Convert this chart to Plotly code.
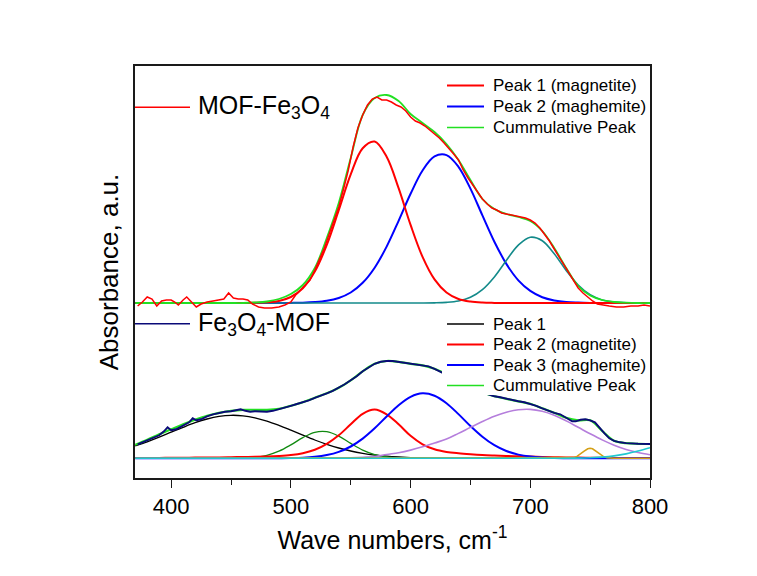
import plotly.graph_objects as go

# ---------------- data ----------------
# common wavenumber grid for the fitted components
wn = [370, 380, 390, 400, 410, 420, 430, 440, 450, 460,
      470, 480, 490, 500, 510, 520, 530, 540, 550, 560,
      570, 580, 590, 600, 610, 620, 630, 640, 650, 660,
      670, 680, 690, 700, 710, 720, 730, 740, 750, 760,
      770, 780, 790, 800]

# ---- upper spectrum: MOF-Fe3O4 (heights above its own baseline) ----
up_peak1 = [0, 0, 0, 0, 0, 0, 0, 0, 0, 0.1,
            0.2, 0.7, 2.1, 6.0, 14.8, 31.4, 58.0, 92.7, 128.6, 154.8,
            161.5, 146.2, 114.8, 78.1, 46.1, 23.6, 10.5, 4.0, 1.4, 0.4,
            0.1, 0, 0, 0, 0, 0, 0, 0, 0, 0,
            0, 0, 0, 0]
up_peak2 = [0, 0, 0, 0, 0, 0, 0, 0, 0, 0,
            0, 0, 0.03, 0.1, 0.3, 0.9, 2.2, 5.0, 10.5, 20.2,
            35.3, 56.4, 82.2, 109.2, 132.5, 146.6, 147.9, 136.2, 114.4, 87.6,
            61.3, 39.1, 22.7, 12.1, 5.8, 2.6, 1.0, 0.4, 0.1, 0,
            0, 0, 0, 0]
up_peak3 = [0, 0, 0, 0, 0, 0, 0, 0, 0, 0,
            0, 0, 0, 0, 0, 0, 0, 0, 0, 0,
            0, 0, 0, 0, 0.03, 0.15, 0.6, 2.0, 5.7, 13.4,
            26.1, 42.6, 57.9, 65.8, 62.3, 49.2, 32.5, 17.9, 8.2, 3.1,
            1.0, 0.3, 0.06, 0]
up_cumul = [0, 0, 0, 0, 0, 0, 0, 0, 0, 0,
            0.5, 1.5, 4, 9, 18, 35, 65, 100, 145, 188,
            205, 208, 202, 189, 180, 171, 159, 143, 123, 104,
            94, 89, 86, 82, 72, 55, 35, 17, 7.5, 3,
            1, 0.3, 0, 0]

up_data_wn = [372, 376, 380, 384, 388, 392, 396, 400, 403, 406, 410, 413, 417, 421, 425, 430,
              435, 440, 444, 448, 452, 456, 460, 464, 468, 473, 478, 484, 490, 495, 500, 504,
              508, 512, 516, 520, 524, 528, 532, 536, 540, 544, 548, 552, 556, 560, 564, 568,
              572, 576, 580, 584, 588, 592, 596, 600, 604, 608, 612, 616, 620, 624, 628, 632,
              636, 640, 644, 648, 652, 656, 660, 664, 668, 672, 676, 680, 684, 688, 692, 696,
              700, 704, 708, 712, 716, 720, 724, 728, 732, 736, 740, 744, 748, 752, 756, 760,
              766, 772, 778, 784, 790, 795, 800]
up_data = [-3, 1, 6, 4, -3, 2, 3, 3, 1, -2, 3, 6, 1, -4, -1, 1,
           2, 3, 4, 10, 5, 4, 4, 3, -1, -4, -5, -5, -4, -2, 1, 8,
           13, 17, 23, 33, 44, 55, 69, 82, 96, 114, 133, 156, 175, 188, 198, 204,
           206, 203, 203, 201, 198, 196, 192, 186, 182, 180, 177, 173, 169, 165, 160, 155,
           149, 143, 133, 125, 118, 110, 104, 99, 95, 93, 90, 89, 88, 87, 86, 85,
           83, 80, 75, 69, 62, 54, 46, 38, 30, 22, 15, 10, 6, 2, -1, -2,
           -3, -4, -4, -3, -3, -2, -3]

# ---- lower spectrum: Fe3O4-MOF ----
lo_peak1 = [12.4, 16.5, 21.1, 26.1, 31.0, 35.6, 39.3, 41.9, 43.0, 42.5,
            40.5, 37.2, 32.9, 28.1, 23.1, 18.3, 14.0, 10.3, 7.3, 5.0,
            3.3, 2.1, 1.3, 0.75, 0.4, 0.2, 0.1, 0, 0, 0,
            0, 0, 0, 0, 0, 0, 0, 0, 0, 0,
            0, 0, 0, 0]
lo_peak_g = [0, 0, 0, 0, 0, 0, 0, 0, 0.07, 0.3,
             1.1, 3.0, 7.1, 13.4, 20.7, 26.0, 26.6, 22.1, 14.9, 8.2,
             3.7, 1.3, 0.4, 0.1, 0, 0, 0, 0, 0, 0,
             0, 0, 0, 0, 0, 0, 0, 0, 0, 0,
             0, 0, 0, 0]
lo_peak2 = [0.3, 0.3, 0.4, 0.5, 0.6, 0.7, 0.8, 0.9, 1.1, 1.3,
            1.5, 1.8, 2.3, 3.2, 5.0, 8.5, 14.5, 23, 34, 44.5,
            48.8, 44, 34, 22.5, 14, 9, 6.4, 5.0, 4.0, 3.2,
            2.7, 2.3, 2.0, 1.7, 1.4, 1.1, 0.8, 0.7, 0.6, 0.5,
            0.4, 0.4, 0.3, 0.3]
lo_peak3 = [0, 0, 0, 0, 0, 0, 0, 0, 0, 0,
            0, 0.02, 0.08, 0.23, 0.6, 1.45, 3.2, 6.4, 11.8, 19.7,
            30.0, 41.8, 53.1, 61.5, 65.0, 62.6, 55.1, 44.2, 32.3, 21.6,
            13.1, 7.3, 3.7, 1.7, 0.7, 0.28, 0.1, 0, 0, 0,
            0, 0, 0, 0]
lo_peak_l = [0, 0, 0, 0, 0, 0, 0, 0, 0, 0,
             0, 0, 0, 0, 0, 0.08, 0.15, 0.3, 0.55, 1.0,
             1.7, 3.8, 5.6, 8.2, 11.5, 15.3, 19.2, 24.9, 30.9, 36.8,
             42.1, 46.1, 48.5, 48.9, 47.0, 43.0, 37.4, 31.0, 24.5, 18.4,
             13.1, 8.9, 5.8, 3.6]
lo_cumul = [13.5, 18.5, 24, 29, 34, 38.5, 42.5, 45.5, 47.5, 48.5,
            48.5, 48.5, 49.5, 52.5, 56, 60.5, 65, 70.5, 78, 87,
            94.5, 97.3, 96.5, 94.5, 93, 89.5, 84, 78, 72, 66,
            62, 59.5, 57, 54.5, 50, 45.5, 40.5, 38, 38, 27.5,
            17.5, 15.2, 14.5, 14.3]

lo_peak_o_wn = [370, 730, 736, 739, 742, 745, 748, 750, 752, 755, 758, 761, 764, 770, 800]
lo_peak_o = [0, 0.04, 0.66, 1.9, 4.1, 7.1, 9.5, 10, 9.5, 7.1, 4.1, 1.9, 0.66, 0.04, 0]

lo_peak_c_wn = [370, 700, 720, 740, 750, 760, 770, 780, 790, 800]
lo_peak_c = [0, 0, 0.02, 0.19, 0.5, 1.15, 2.4, 4.4, 7.2, 10.6]

lo_data_wn = [372, 376, 380, 385, 390, 394, 397, 400, 404, 408, 412, 415, 418, 421, 425, 430,
              435, 440, 445, 450, 455, 458, 462, 466, 470, 475, 480, 485, 490, 495, 500, 505,
              510, 515, 520, 525, 530, 535, 540, 545, 550, 555, 560, 565, 570, 575, 580, 585,
              590, 595, 600, 605, 610, 615, 620, 625, 630, 635, 640, 645, 650, 655, 660, 665,
              670, 675, 680, 685, 690, 695, 700, 705, 710, 715, 720, 725, 730, 735, 738, 742,
              746, 750, 754, 758, 762, 766, 770, 775, 780, 790, 800]
lo_data = [14, 16, 18.5, 21, 23, 27, 31, 28, 29, 31.5, 34, 36, 40, 38, 39, 42,
           44, 45.5, 46.5, 47, 48, 49, 47.5, 46.5, 47, 46.5, 46.5, 47.5, 49, 51, 52.5, 54.3,
           56, 58, 60.5, 62.5, 65, 67.5, 70.5, 74, 78, 82, 87, 91, 94.5, 96.5, 97.3, 97.3,
           96.5, 95.5, 94.5, 93.8, 93, 92, 89.5, 86.5, 84, 81, 78, 75, 72, 69, 66, 64,
           62, 61, 59.5, 58.5, 57, 56, 54.5, 52.5, 50, 47.5, 45.5, 44, 40.5, 37, 37, 38.5,
           39, 38, 36, 30, 25, 20, 17.5, 16, 15.2, 14.5, 14.3]

x_ticks = [400, 500, 600, 700, 800]
x_tick_labels = ["400", "500", "600", "700", "800"]

# ---------------- styling ----------------
FONT = "Arial, 'Liberation Sans', Helvetica, sans-serif"
UP_OFF = 175.0   # vertical offset of the upper spectrum
LO_OFF = 19.7    # vertical offset of the lower spectrum
LIME = "#22E022"

fig = go.Figure()


def add(x, y, off, color, width, shape="spline"):
    line = dict(color=color, width=width, shape=shape)
    if shape == "spline":
        line["smoothing"] = 1.0
    fig.add_trace(go.Scatter(
        x=x, y=[v + off for v in y], mode="lines", line=line,
        showlegend=False, hoverinfo="skip"))


# upper
add(wn, up_peak2, UP_OFF, "#0000FF", 2.0)
add(wn, up_peak3, UP_OFF, "#138A8A", 1.6)
add(wn, up_peak1, UP_OFF, "#FF0000", 2.0)
add(wn, up_cumul, UP_OFF, LIME, 1.8)
add(up_data_wn, up_data, UP_OFF, "#FF0000", 1.5, "linear")

# lower
add(wn, lo_peak1, LO_OFF, "#000000", 1.3)
add(wn, lo_peak_g, LO_OFF, "#108A10", 1.3)
add(wn, lo_peak2, LO_OFF, "#FF0000", 2.0)
add(wn, lo_peak3, LO_OFF, "#0000FF", 2.0)
add(wn, lo_peak_l, LO_OFF, "#B57EDC", 1.6)
add(lo_peak_o_wn, lo_peak_o, LO_OFF, "#D4A017", 1.6, "linear")
add(lo_peak_c_wn, lo_peak_c, LO_OFF, "#20C8D0", 1.6)
add(wn, lo_cumul, LO_OFF, LIME, 2.2)
add(lo_data_wn, lo_data, LO_OFF, "#0A0A78", 1.9, "linear")

# ---------------- layout ----------------
W, H = 757, 576
PAGE = 8  # page body margin of the browser
# plot area on screen: x 135..650, y 66..478
SX0, SX1, SY0, SY1 = 135, 650, 66, 478
L, T = SX0 - PAGE, SY0 - PAGE
R, B = W - (SX1 - PAGE), H - (SY1 - PAGE)
PW, PH = SX1 - SX0, SY1 - SY0


def px(xs):
    return (xs - SX0) / PW


def py(ys):
    return (SY1 - ys) / PH


shapes = []
annotations = []

# white box behind the lower legend (hides the curve as in the original)
shapes.append(dict(type="rect", xref="paper", yref="paper",
                   x0=px(442), x1=px(648), y0=py(395), y1=py(312),
                   fillcolor="white", line=dict(width=0), layer="above"))

# sample labels with line keys
for ys, color, text in [(107.3, "#FF0000", "MOF-Fe<sub>3</sub>O<sub>4</sub>"),
                        (323.7, "#0A0A78", "Fe<sub>3</sub>O<sub>4</sub>-MOF")]:
    shapes.append(dict(type="line", xref="paper", yref="paper",
                       x0=px(135), x1=px(190), y0=py(ys), y1=py(ys),
                       line=dict(color=color, width=1.5), layer="above"))
    annotations.append(dict(xref="paper", yref="paper", x=px(196), y=py(ys),
                            xanchor="left", yanchor="middle", showarrow=False,
                            text=text, font=dict(size=25, family=FONT, color="black")))

legend_up = [(85.5, "#FF0000", 2.0, "Peak 1 (magnetite)"),
             (106.5, "#0000FF", 2.0, "Peak 2 (maghemite)"),
             (127.5, LIME, 1.6, "Cummulative Peak")]
legend_lo = [(324.0, "#000000", 1.5, "Peak 1"),
             (344.5, "#FF0000", 2.0, "Peak 2 (magnetite)"),
             (365.0, "#0000FF", 2.0, "Peak 3 (maghemite)"),
             (385.5, LIME, 1.6, "Cummulative Peak")]
for ys, color, w, text in legend_up + legend_lo:
    shapes.append(dict(type="line", xref="paper", yref="paper",
                       x0=px(447), x1=px(484), y0=py(ys), y1=py(ys),
                       line=dict(color=color, width=w), layer="above"))
    annotations.append(dict(xref="paper", yref="paper", x=px(491), y=py(ys),
                            xanchor="left", yanchor="middle", showarrow=False,
                            text=text, font=dict(size=17, family=FONT, color="black")))

AX = "#1a1a1a"
fig.update_layout(
    width=W, height=H,
    margin=dict(l=L, r=R, t=T, b=B, autoexpand=False),
    paper_bgcolor="white", plot_bgcolor="white",
    font=dict(family=FONT, color="black"),
    showlegend=False,
    shapes=shapes, annotations=annotations,
    xaxis=dict(range=[369.8, 800], showline=True, linecolor=AX, linewidth=1.5, mirror=True,
               ticks="outside", ticklen=8, tickwidth=1.3, tickcolor=AX,
               tickmode="array", tickvals=x_ticks, ticktext=x_tick_labels,
               minor=dict(ticks="outside", ticklen=5, tickwidth=1.3, tickcolor=AX,
                          tickmode="array", tickvals=[450, 550, 650, 750]),
               showgrid=False, zeroline=False, tickfont=dict(size=22, family=FONT),
               title=dict(text="Wave numbers, cm<sup>-1</sup>", font=dict(size=25, family=FONT),
                          standoff=13)),
    yaxis=dict(range=[0, PH], showline=True, linecolor=AX, linewidth=1.5, mirror=True,
               ticks="", showticklabels=False, showgrid=False, zeroline=False,
               title=dict(text="Absorbance, a.u.", font=dict(size=26, family=FONT), standoff=7)),
)

fig.write_html("out.html")
